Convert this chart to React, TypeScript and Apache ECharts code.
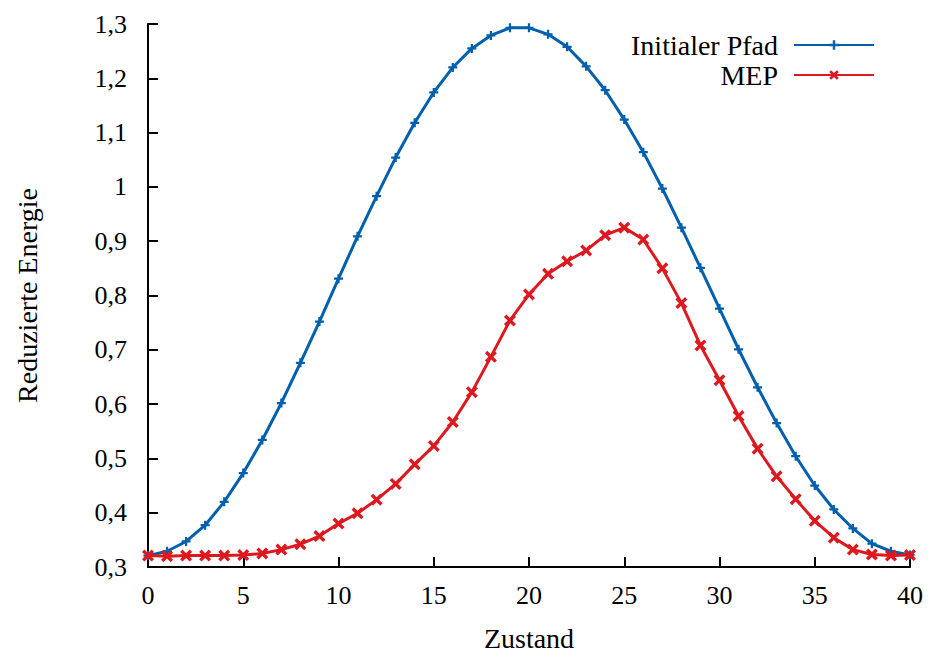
import React, { useEffect, useRef } from "react";
import * as echarts from "echarts";

const states: number[] = Array.from({ length: 41 }, (_, i) => i);

const initialPath: number[] = [
  0.321, 0.329, 0.347, 0.377, 0.420, 0.473, 0.534, 0.602, 0.676, 0.752,
  0.831, 0.909, 0.983, 1.054, 1.118, 1.174, 1.220, 1.255, 1.279, 1.293,
  1.293, 1.281, 1.258, 1.222, 1.178, 1.124, 1.064, 0.997, 0.925, 0.851,
  0.776, 0.701, 0.631, 0.565, 0.504, 0.450, 0.406, 0.371, 0.343, 0.329,
  0.322,
];

const mep: number[] = [
  0.321, 0.320, 0.321, 0.321, 0.321, 0.322, 0.325, 0.332, 0.342, 0.357,
  0.380, 0.399, 0.424, 0.453, 0.489, 0.523, 0.567, 0.622, 0.687, 0.754,
  0.802, 0.840, 0.863, 0.883, 0.911, 0.925, 0.903, 0.850, 0.786, 0.708,
  0.644, 0.578, 0.518, 0.467, 0.425, 0.385, 0.354, 0.332, 0.323, 0.321,
  0.322,
];

const seriesNames = ["Initialer Pfad", "MEP"];
const xTitle = "Zustand";
const yTitle = "Reduzierte Energie";

const FONT = "Liberation Serif";
const BLUE = "#0060ad";
const RED = "#dd181f";

const plusSymbol = "path://M3,0H5V3H8V5H5V8H3V5H0V3H3Z";
const crossSymbol =
  "path://M0,2L2,0L5,3L8,0L10,2L7,5L10,8L8,10L5,7L2,10L0,8L3,5Z";

export default function App() {
  const ref = useRef<HTMLDivElement>(null);
  useEffect(() => {
    if (!ref.current) return;
    const chart = echarts.init(ref.current, undefined, { renderer: "svg" });
    const fmt = (v: number) => String(+v.toFixed(1)).replace(".", ",");
    chart.setOption({
      animation: false,
      backgroundColor: "#ffffff",
      grid: {
        left: 148,
        right: 21,
        top: 24,
        bottom: 87,
        containLabel: false,
        outerBoundsMode: "none",
      },
      legend: {
        orient: "vertical",
        right: 51,
        top: 26,
        align: "right",
        itemWidth: 80,
        itemHeight: 12,
        itemGap: 2,
        textStyle: {
          fontFamily: FONT,
          fontSize: 28,
          color: "#000",
          padding: [0, 11, 0, 0],
        },
        data: seriesNames,
      },
      xAxis: {
        type: "value",
        min: 0,
        max: 40,
        interval: 5,
        name: xTitle,
        nameLocation: "middle",
        nameGap: 57,
        nameTextStyle: { fontFamily: FONT, fontSize: 28, color: "#000" },
        axisLine: { onZero: false, lineStyle: { color: "#000", width: 2 } },
        axisTick: { inside: true, length: 10, lineStyle: { color: "#000", width: 2 } },
        axisLabel: {
          fontFamily: FONT,
          fontSize: 26,
          color: "#000",
          margin: 15,
        },
        splitLine: { show: false },
      },
      yAxis: {
        type: "value",
        min: 0.3,
        max: 1.3,
        interval: 0.1,
        name: yTitle,
        nameLocation: "middle",
        nameGap: 107,
        nameRotate: 90,
        nameTextStyle: { fontFamily: FONT, fontSize: 28, color: "#000" },
        axisLine: { show: true, lineStyle: { color: "#000", width: 2 } },
        axisTick: { show: true, inside: true, length: 10, lineStyle: { color: "#000", width: 2 } },
        axisLabel: {
          fontFamily: FONT,
          fontSize: 26,
          color: "#000",
          margin: 21,
          formatter: fmt,
        },
        splitLine: { show: false },
      },
      series: [
        {
          name: seriesNames[0],
          type: "line",
          data: states.map((s, i) => [s, initialPath[i]]),
          symbol: plusSymbol,
          symbolSize: 9,
          showSymbol: true,
          color: BLUE,
          lineStyle: { color: BLUE, width: 3 },
          itemStyle: { color: BLUE },
          z: 2,
        },
        {
          name: seriesNames[1],
          type: "line",
          data: states.map((s, i) => [s, mep[i]]),
          symbol: crossSymbol,
          symbolSize: 12,
          showSymbol: true,
          color: RED,
          lineStyle: { color: RED, width: 3 },
          itemStyle: { color: RED },
          z: 3,
        },
      ],
    });
    return () => chart.dispose();
  }, []);
  return <div ref={ref} style={{ width: 931, height: 654, position: "absolute", left: 0, top: 0 }} />;
}
